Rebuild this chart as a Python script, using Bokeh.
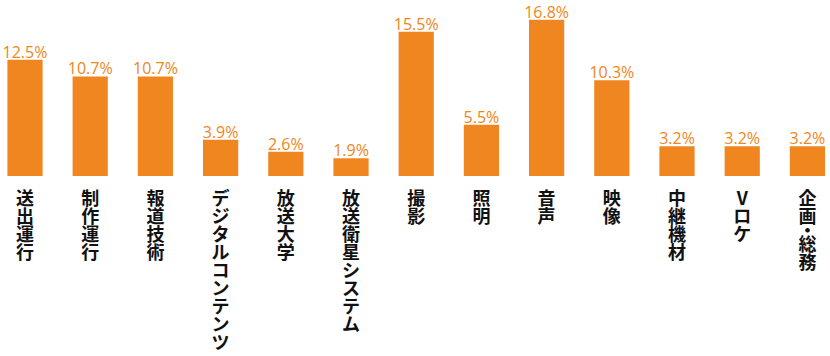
from bokeh.plotting import figure
from bokeh.models import ColumnDataSource, Range1d
from bokeh.core.properties import value
from bokeh.embed import file_html
from bokeh.resources import INLINE

categories = ["送出運行", "制作運行", "報道技術", "デジタルコンテンツ", "放送大学",
              "放送衛星システム", "撮影", "照明", "音声", "映像", "中継機材", "Vロケ", "企画・総務"]
percent = [12.5, 10.7, 10.7, 3.9, 2.6, 1.9, 15.5, 5.5, 16.8, 10.3, 3.2, 3.2, 3.2]

W, H = 830, 356
ORANGE = "#EF8620"

# scale: pixels per percent, and the pixel row of the baseline (from top)
k = 9.3
base_px = 175.5
y_start = -(H - base_px) / k
y_end = base_px / k

xs = list(range(len(categories)))
x_left = -0.376
x_right = x_left + W / 65.2

labels_pct = [f"{v}%" for v in percent]

src = ColumnDataSource(dict(
    x=xs, top=percent, pct=labels_pct,
    pct_y=[v + 8.0 / k for v in percent],
))

# vertical (stacked) category labels: one glyph per character
pitch = 18.0
first = 20.5
cx, cy, ct = [], [], []
for i, name in enumerate(categories):
    pos = first
    prev = None
    for j, ch in enumerate(name):
        if j > 0:
            pos += 14.0 if (ch == "・" or prev == "・") else pitch
        cx.append(i)
        cy.append(-pos / k)
        ct.append(ch)
        prev = ch
csrc = ColumnDataSource(dict(x=cx, y=cy, t=ct))

p = figure(width=W, height=H, output_backend="svg", toolbar_location=None,
           x_range=Range1d(x_left, x_right), y_range=Range1d(y_start, y_end),
           min_border=0, outline_line_color=None, background_fill_color="white",
           border_fill_color="white")
p.xaxis.visible = False
p.yaxis.visible = False
p.xgrid.visible = False
p.ygrid.visible = False

p.vbar(x="x", top="top", bottom=0, width=0.54, source=src,
       fill_color=ORANGE, line_color=None)

p.text(x="x", y="pct_y", text="pct", source=src, text_align="center",
       text_baseline="middle", text_color=ORANGE,
       text_font=value("Open Sans"), text_font_size="16px")

p.text(x="x", y="y", text="t", source=csrc, text_align="center",
       text_baseline="middle", text_color="#111111",
       text_font=value("Noto Sans CJK JP"), text_font_style="bold",
       text_font_size="18px")

open("out.html", "w").write(file_html(p, INLINE))
